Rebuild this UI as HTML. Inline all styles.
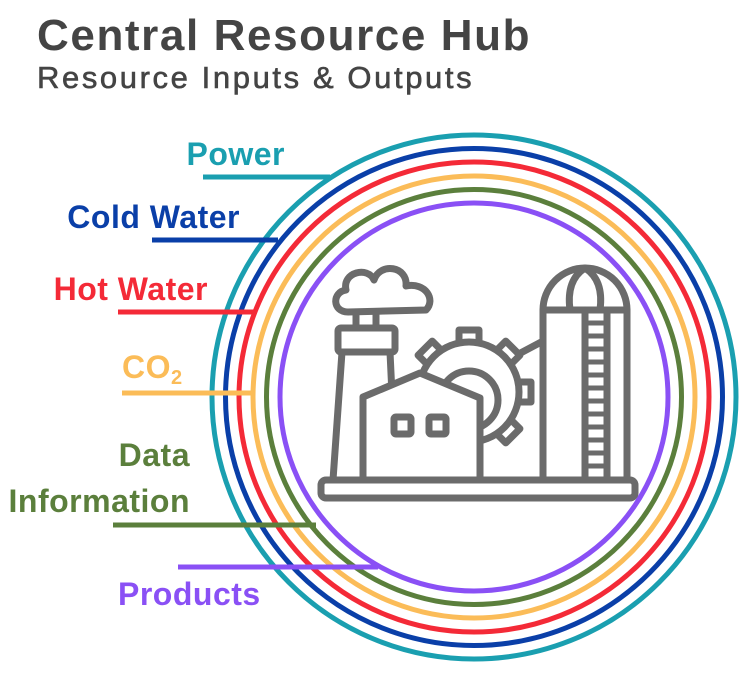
<!DOCTYPE html>
<html><head><meta charset="utf-8"><style>
html,body{margin:0;padding:0;background:#fff;width:756px;height:686px;overflow:hidden}
svg{display:block}
text{font-family:"Liberation Sans",sans-serif;font-weight:bold}
</style></head><body>
<svg width="756" height="686" viewBox="0 0 756 686" xmlns="http://www.w3.org/2000/svg">
<text x="37" y="50" font-size="44" fill="#444" letter-spacing="1.6">Central Resource Hub</text>
<text x="37" y="88" font-size="31" fill="#444" letter-spacing="2.6" style="font-weight:normal" stroke="#444" stroke-width="0.6">Resource Inputs &amp; Outputs</text>

<g fill="none" stroke-width="5">
<circle cx="474" cy="397" r="262" stroke="#1a9fb0"/>
<circle cx="474" cy="397" r="248.5" stroke="#0a3fa8"/>
<circle cx="474" cy="397" r="235" stroke="#f42a37"/>
<circle cx="474" cy="397" r="221" stroke="#fbbc58"/>
<circle cx="474" cy="397" r="207.5" stroke="#5b7f3c"/>
<circle cx="474" cy="397" r="194" stroke="#8a50f5"/>
</g>
<g stroke-width="5">
<line x1="203" y1="177" x2="330" y2="177" stroke="#1a9fb0"/>
<line x1="152" y1="240" x2="278" y2="240" stroke="#0a3fa8"/>
<line x1="118" y1="312" x2="254" y2="312" stroke="#f42a37"/>
<line x1="122" y1="393" x2="253" y2="393" stroke="#fbbc58"/>
<line x1="113" y1="525" x2="316" y2="525" stroke="#5b7f3c"/>
<line x1="178" y1="567" x2="378" y2="567" stroke="#8a50f5"/>
</g>
<g font-size="32" letter-spacing="0.5">
<text x="285" y="165" fill="#1a9fb0" text-anchor="end">Power</text>
<text x="240" y="228" fill="#0a3fa8" text-anchor="end">Cold Water</text>
<text x="208" y="300" fill="#f42a37" text-anchor="end">Hot Water</text>
<text x="122" y="378" fill="#fbbc58">CO<tspan font-size="20" dy="6">2</tspan></text>
<text x="190" y="466" fill="#5b7f3c" text-anchor="end">Data</text>
<text x="190" y="512" fill="#5b7f3c" text-anchor="end">Information</text>
<text x="118" y="605" fill="#8a50f5">Products</text>
</g>

<g stroke="#6b6b6b" stroke-width="7" fill="#fff" stroke-linejoin="round" stroke-linecap="round">
<line x1="513" y1="357" x2="545" y2="340"/>
<g transform="translate(469,392)">
<rect x="-10" y="-62" width="20" height="18" transform="rotate(0)"/>
<rect x="-10" y="-62" width="20" height="18" transform="rotate(45)"/>
<rect x="-10" y="-62" width="20" height="18" transform="rotate(90)"/>
<rect x="-10" y="-62" width="20" height="18" transform="rotate(135)"/>
<rect x="-10" y="-62" width="20" height="18" transform="rotate(180)"/>
<rect x="-10" y="-62" width="20" height="18" transform="rotate(225)"/>
<rect x="-10" y="-62" width="20" height="18" transform="rotate(270)"/>
<rect x="-10" y="-62" width="20" height="18" transform="rotate(315)"/>
<circle r="50"/>
<circle r="29" cy="8"/>
</g>
<path d="M348 312 C332 312 332 292 346 290 C342 272 368 266 374 280 C380 262 408 266 406 286 C426 282 436 300 426 310 Z"/>
<line x1="356" y1="312" x2="356" y2="328"/>
<line x1="376" y1="312" x2="376" y2="328"/>
<polygon points="342,352 390,352 396,480 333,480"/>
<rect x="338" y="328" width="57" height="24" rx="3"/>
<polygon points="363,397 420,373 480,398 480,480 363,480"/>
<rect x="394" y="417" width="17" height="17" rx="2"/>
<rect x="429" y="417" width="17" height="17" rx="2"/>
<path d="M543 310 A42 42 0 0 1 627 310 Z"/>
<path d="M570 310 Q566 280 585 268 Q604 280 600 310" fill="none"/>
<rect x="543" y="310" width="84" height="170"/>
<line x1="585" y1="310" x2="585" y2="480"/>
<line x1="607" y1="310" x2="607" y2="480"/>
<g stroke-width="5">
<line x1="585" y1="323" x2="607" y2="323"/><line x1="585" y1="336" x2="607" y2="336"/>
<line x1="585" y1="349" x2="607" y2="349"/><line x1="585" y1="362" x2="607" y2="362"/>
<line x1="585" y1="375" x2="607" y2="375"/><line x1="585" y1="388" x2="607" y2="388"/>
<line x1="585" y1="401" x2="607" y2="401"/><line x1="585" y1="414" x2="607" y2="414"/>
<line x1="585" y1="427" x2="607" y2="427"/><line x1="585" y1="440" x2="607" y2="440"/>
<line x1="585" y1="453" x2="607" y2="453"/><line x1="585" y1="466" x2="607" y2="466"/>
</g>
<rect x="321" y="480" width="314" height="18" rx="5"/>
</g>
</svg>
</body></html>
